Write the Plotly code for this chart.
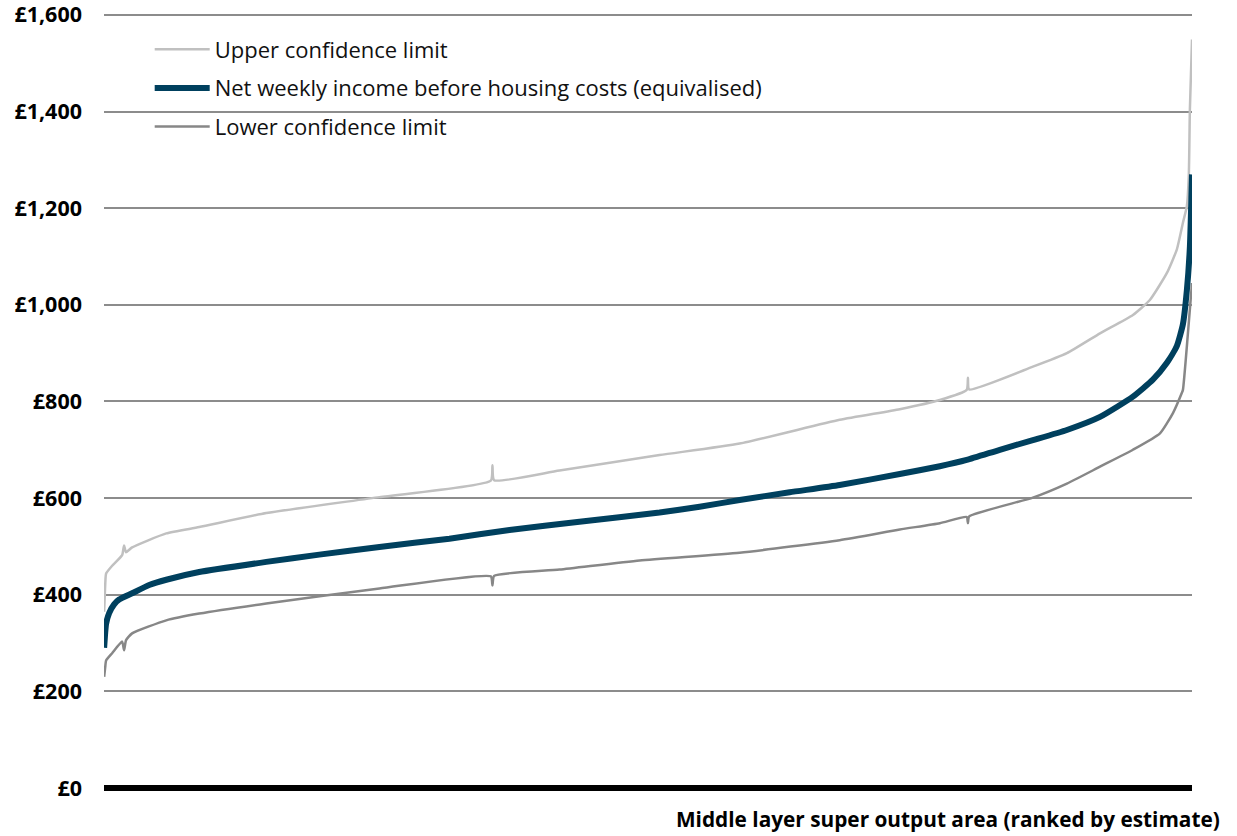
import plotly.graph_objects as go

# Ranked MSOAs (1..7201) and values (£ per week)
main_rank = [1, 8, 14, 34, 67, 100, 186, 299, 412, 630, 1074, 1425, 1823, 2286, 2684,
             3147, 3677, 3942, 4207, 4538, 4869, 5267, 5532, 5710, 5929, 6148, 6373,
             6592, 6810, 6942, 7035, 7101, 7141, 7167, 7187, 7201]
main_val = [290, 322, 340, 362, 380, 390, 403, 420, 431, 447, 468, 483, 499, 516, 534,
            551, 570, 582, 596, 612, 627, 650, 666, 679, 700, 720, 741,
            768, 810, 845, 880, 915, 960, 1030, 1120, 1270]

upper_rank = [1, 8, 14, 54, 120, 133, 146, 186, 412, 630, 1074, 1823, 2560, 2571, 2582,
              3015, 3677, 4207, 4869, 5267, 5532, 5710, 5718, 5726, 6148, 6373, 6592,
              6810, 6922, 7035, 7101, 7141, 7167, 7180, 7187, 7201]
upper_val = [365, 420, 444, 460, 482, 502, 488, 498, 527, 540, 569, 602, 636, 668, 637,
             657, 689, 713, 762, 784, 803, 824, 849, 825, 872, 900, 941,
             979, 1010, 1066, 1115, 1170, 1204, 1270, 1404, 1549]

lower_rank = [1, 8, 14, 54, 120, 133, 146, 186, 412, 630, 1074, 1823, 2560, 2571, 2582,
              3015, 3545, 4207, 4869, 5267, 5532, 5710, 5718, 5726, 6148, 6373, 6592,
              6810, 6989, 7075, 7134, 7141, 7174, 7201]
lower_val = [230, 250, 264, 279, 303, 285, 306, 320, 347, 361, 382, 413, 438, 419, 439,
             452, 471, 487, 513, 535, 548, 561, 548, 562, 601, 630, 665,
             700, 734, 776, 818, 824, 941, 1045]

y_ticks = [0, 200, 400, 600, 800, 1000, 1200, 1400, 1600]
y_tick_labels = ["£0", "£200", "£400", "£600", "£800", "£1,000", "£1,200", "£1,400", "£1,600"]

FONT = "Open Sans"

fig = go.Figure()
fig.add_trace(go.Scatter(x=upper_rank, y=upper_val, mode="lines",
                         name="Upper confidence limit", legendgroup="a", legendrank=1,
                         line=dict(color="#c0c0c0", width=2.5, shape="spline", smoothing=0.5)))
fig.add_trace(go.Scatter(x=lower_rank, y=lower_val, mode="lines",
                         name="Lower confidence limit", legendgroup="c", legendrank=3,
                         line=dict(color="#878787", width=2.5, shape="spline", smoothing=0.5)))
fig.add_trace(go.Scatter(x=main_rank, y=main_val, mode="lines",
                         name="Net weekly income before housing costs (equivalised)",
                         legendgroup="b", legendrank=2,
                         line=dict(color="#00405e", width=6, shape="spline", smoothing=0.5)))

fig.update_layout(
    width=1237, height=836,
    margin=dict(l=104, r=45, t=13, b=48, autoexpand=False),
    paper_bgcolor="white", plot_bgcolor="white",
    font=dict(family=FONT, color="#000000"),
    showlegend=True,
    legend=dict(x=0.042, y=0.98, xanchor="left", yanchor="top",
                bgcolor="rgba(0,0,0,0)", font=dict(size=22, family=FONT, color="#111111"),
                traceorder="grouped", tracegroupgap=7, itemwidth=55),
    xaxis=dict(range=[0, 7201], showticklabels=False, showgrid=False,
               zeroline=False, showline=False, ticks="", automargin=False),
    yaxis=dict(range=[0, 1604], tickvals=y_ticks, ticktext=y_tick_labels,
               showgrid=True, gridcolor="#8c8c8c", gridwidth=2,
               zeroline=True, zerolinecolor="#000000", zerolinewidth=6,
               tickfont=dict(size=21.5, family=FONT, color="#000000", weight="bold"),
               ticklabelstandoff=21, ticklabeloverflow="allow", ticks="", automargin=False),
    annotations=[dict(text="<b>Middle layer super output area (ranked by estimate)</b>",
                      xref="paper", yref="paper", x=1.0275, y=0, xanchor="right",
                      yanchor="top", yshift=-15, showarrow=False,
                      font=dict(size=20.8, family=FONT, color="#000000"))],
)

fig.write_html("out.html")
